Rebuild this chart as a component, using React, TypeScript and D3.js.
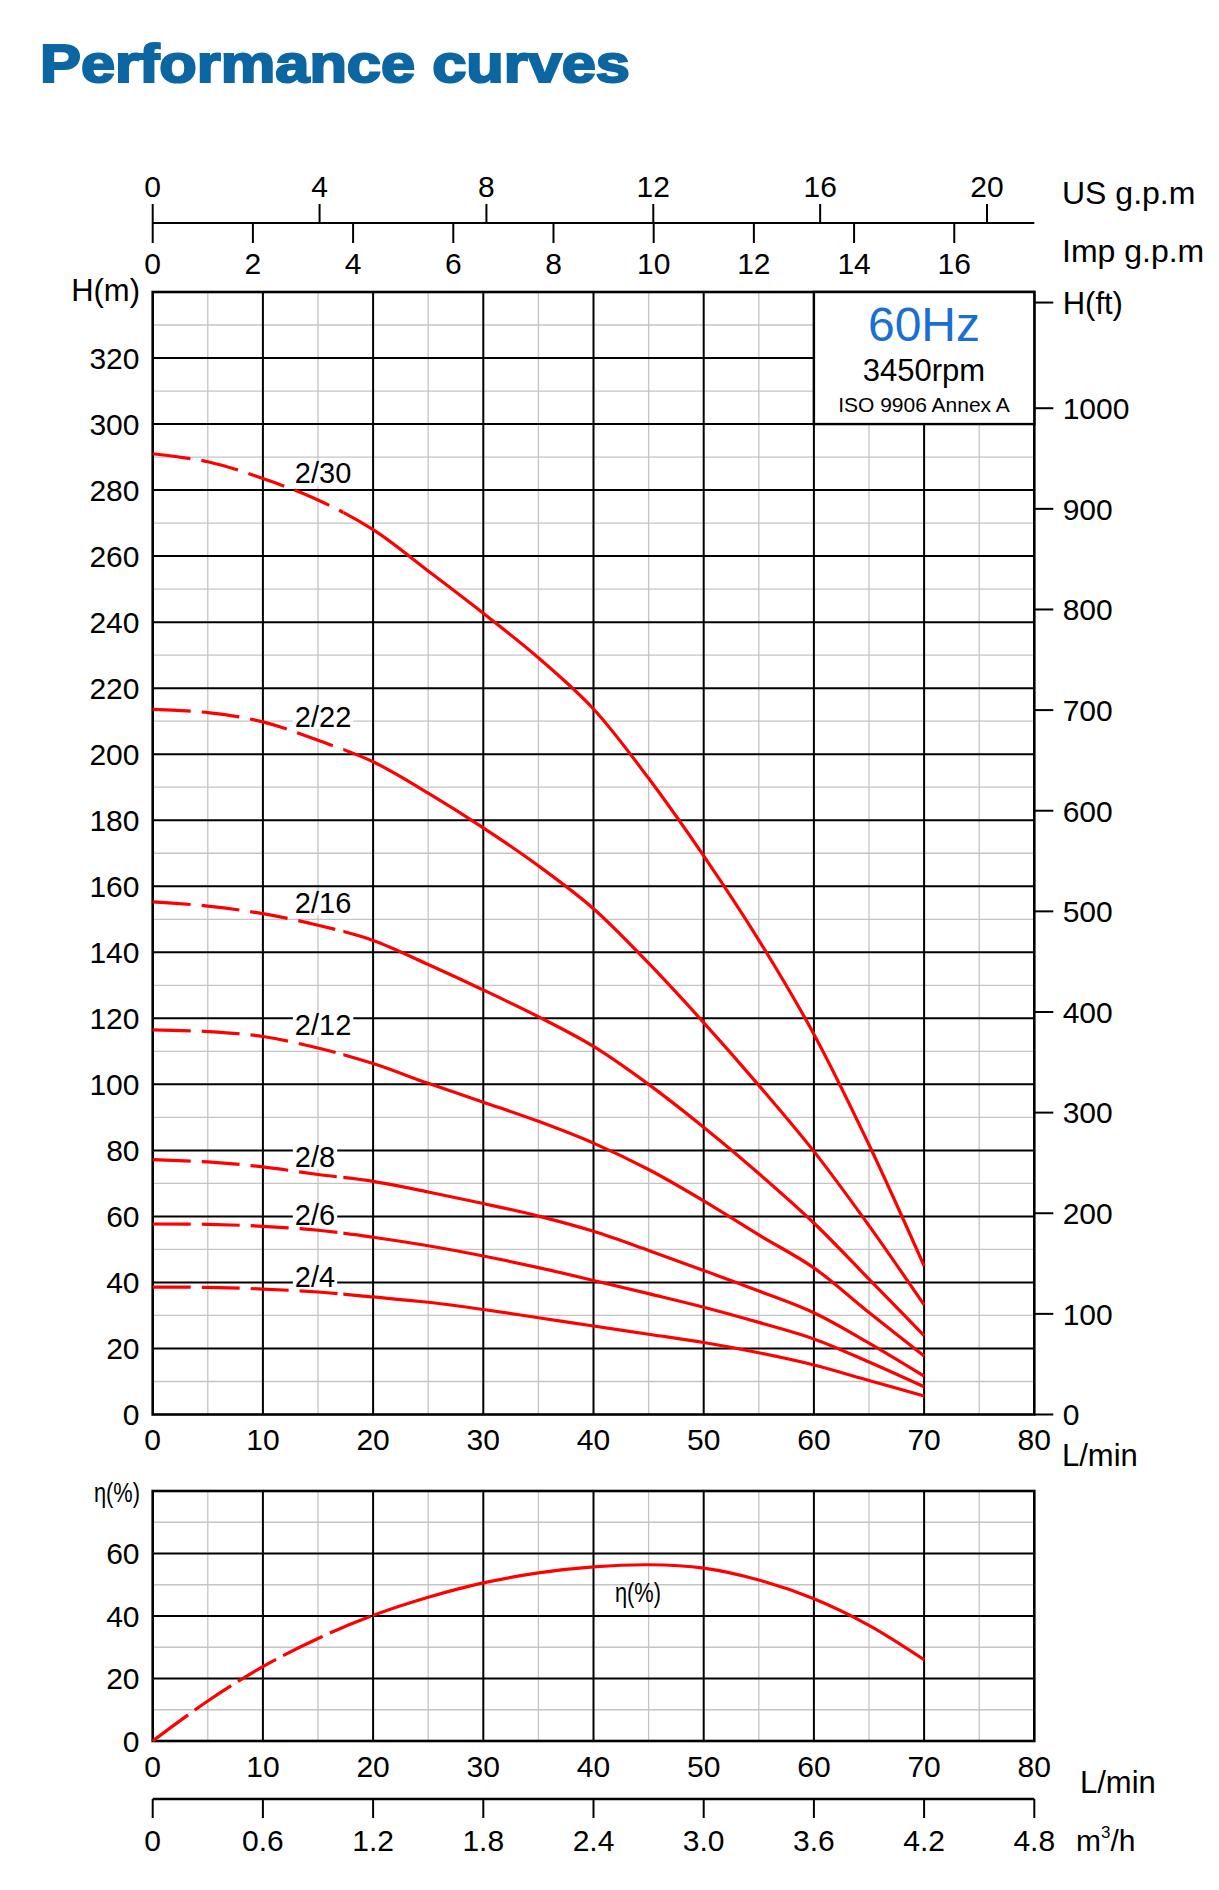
import * as d3 from "d3";

// flow rate, L/min
const flow = [0, 5, 10, 15, 20, 25, 30, 35, 40, 45, 50, 55, 60, 65, 70];

// head, m
const head2_30 = [291, 288.6, 283.5, 277, 268, 255.5, 242.7, 229.2, 213.7, 192.7, 169.2, 143.7, 115.2, 81.7, 45];
const head2_22 = [213.6, 212.6, 209.8, 204.2, 197.7, 188.2, 177.7, 166.2, 153.2, 136.7, 118.7, 99.7, 79.7, 57.2, 33.2];
const head2_16 = [155.3, 154, 151.7, 148.2, 143.6, 136.3, 128.6, 120.5, 111.5, 100, 87, 73, 58, 41, 23.9];
const head2_12 = [116.5, 116, 114.5, 111, 106.3, 100.3, 94.6, 88.8, 82.2, 74.2, 64.7, 54.4, 44.4, 30.9, 17.7];
const head2_8 = [77.2, 76.5, 75, 72.7, 70.6, 67.4, 63.9, 60.1, 55.5, 49.7, 43.6, 37.4, 30.8, 21.6, 11.6];
const head2_6 = [57.7, 57.6, 57, 55.8, 53.7, 51.1, 48, 44.5, 40.6, 36.6, 32.5, 27.9, 22.9, 15.9, 8.4];
const head2_4 = [38.6, 38.5, 38, 37.1, 35.6, 34, 31.8, 29.3, 26.8, 24.3, 21.8, 18.7, 15, 10.3, 5.6];

const models = ["2/30", "2/22", "2/16", "2/12", "2/8", "2/6", "2/4"];
const heads = [head2_30, head2_22, head2_16, head2_12, head2_8, head2_6, head2_4];
const labelHead = [282, 208.3, 151.9, 114.9, 75.1, 57.4, 38.6];
const labelFlow = 12.9;

// efficiency, %
const efficiency = [0, 12.8, 23.8, 32.8, 40.2, 46, 50.6, 53.8, 55.7, 56.4, 55.3, 51.5, 45.5, 37, 26];

const flowTicks = [0, 10, 20, 30, 40, 50, 60, 70, 80];
const headTicksM = [0, 20, 40, 60, 80, 100, 120, 140, 160, 180, 200, 220, 240, 260, 280, 300, 320];
const headTicksFt = [0, 100, 200, 300, 400, 500, 600, 700, 800, 900, 1000];
const effTicks = [0, 20, 40, 60];
const usGpmTicks = [0, 4, 8, 12, 16, 20];
const impGpmTicks = [0, 2, 4, 6, 8, 10, 12, 14, 16];
const m3hTicks = ["0", "0.6", "1.2", "1.8", "2.4", "3.0", "3.6", "4.2", "4.8"];

const FONT = "'Liberation Sans', Arial, Helvetica, sans-serif";
const RED = "#ff0000";
const GRID_MINOR = "#c4c4c4";

export default function App() {
  const x = d3.scaleLinear().domain([0, 80]).range([152.7, 1034.3]);
  const yH = d3.scaleLinear().domain([0, 340]).range([1414.5, 292]);
  const yFt = d3.scaleLinear().domain([0, 340 * 3.28084]).range([1414.5, 292]);
  const yE = d3.scaleLinear().domain([0, 80]).range([1741, 1491]);
  const xUs = d3.scaleLinear().domain([0, 80 / 3.78541]).range(x.range());
  const xImp = d3.scaleLinear().domain([0, 80 / 4.54609]).range(x.range());
  const xM3 = d3.scaleLinear().domain([0, 4.8]).range(x.range());

  const headLine = d3
    .line<number>()
    .x((_, i) => x(flow[i]))
    .y(d => yH(d))
    .curve(d3.curveCatmullRom.alpha(0.5));
  const effLine = d3
    .line<number>()
    .x((_, i) => x(flow[i]))
    .y(d => yE(d))
    .curve(d3.curveCatmullRom.alpha(0.5));

  const dashEnd = 17.3;
  const effDashEnd = 20;

  const minorX = d3.range(5, 80, 10);
  const majorX = d3.range(10, 80, 10);
  const minorH = d3.range(10, 340, 20);
  const majorH = d3.range(20, 340, 20);
  const minorE = d3.range(10, 80, 20);
  const majorE = d3.range(20, 80, 20);

  const txt = { fontFamily: FONT, fill: "#000" } as const;

  return (
    <svg
      width={1219}
      height={1890}
      style={{ position: "absolute", left: 0, top: 0, background: "#fff" }}
    >
      <defs>
        <clipPath id="dashH">
          <rect x={0} y={0} width={x(dashEnd)} height={1890} />
        </clipPath>
        <clipPath id="solidH">
          <rect x={x(dashEnd)} y={0} width={1219} height={1890} />
        </clipPath>
        <clipPath id="dashE">
          <rect x={0} y={0} width={x(effDashEnd)} height={1890} />
        </clipPath>
        <clipPath id="solidE">
          <rect x={x(effDashEnd)} y={0} width={1219} height={1890} />
        </clipPath>
      </defs>
      <rect width={1219} height={1890} fill="#fff" />

      {/* title */}
      <text
        x={40}
        y={81.7}
        fontFamily={FONT}
        fontWeight={900}
        fontSize={54}
        fill="#0b66a2"
        stroke="#0b66a2"
        strokeWidth={2.2}
        textLength={590}
        lengthAdjust="spacingAndGlyphs"
      >
        Performance curves
      </text>

      {/* top flow axes */}
      <line x1={x(0)} x2={x(80)} y1={223} y2={223} stroke="#000" strokeWidth={2.2} />
      {usGpmTicks.map(t => (
        <g key={"us" + t}>
          <line x1={xUs(t)} x2={xUs(t)} y1={223} y2={204} stroke="#000" strokeWidth={2} />
          <text x={xUs(t)} y={196.7} textAnchor="middle" fontSize={30} {...txt}>
            {t}
          </text>
        </g>
      ))}
      {impGpmTicks.map(t => (
        <g key={"imp" + t}>
          <line x1={xImp(t)} x2={xImp(t)} y1={223} y2={243} stroke="#000" strokeWidth={2} />
          <text x={xImp(t)} y={274} textAnchor="middle" fontSize={30} {...txt}>
            {t}
          </text>
        </g>
      ))}
      <text x={1062} y={204} fontSize={32} {...txt}>US g.p.m</text>
      <text x={1062} y={261.7} fontSize={32} {...txt}>Imp g.p.m</text>

      {/* head chart grid */}
      <g>
        {minorX.map(v => (
          <line key={"hmx" + v} x1={x(v)} x2={x(v)} y1={yH(0)} y2={yH(340)} stroke={GRID_MINOR} strokeWidth={1.3} />
        ))}
        {minorH.map(v => (
          <line key={"hmy" + v} x1={x(0)} x2={x(80)} y1={yH(v)} y2={yH(v)} stroke={GRID_MINOR} strokeWidth={1.3} />
        ))}
        {majorX.map(v => (
          <line key={"hMx" + v} x1={x(v)} x2={x(v)} y1={yH(0)} y2={yH(340)} stroke="#000" strokeWidth={2} />
        ))}
        {majorH.map(v => (
          <line key={"hMy" + v} x1={x(0)} x2={x(80)} y1={yH(v)} y2={yH(v)} stroke="#000" strokeWidth={2} />
        ))}
        <rect
          x={x(0)}
          y={yH(340)}
          width={x(80) - x(0)}
          height={yH(0) - yH(340)}
          fill="none"
          stroke="#000"
          strokeWidth={2.6}
        />
      </g>

      {/* info box */}
      <rect
        x={x(60)}
        y={yH(340)}
        width={x(80) - x(60)}
        height={yH(300) - yH(340)}
        fill="#fff"
        stroke="#000"
        strokeWidth={2.4}
      />
      <text x={924} y={341} textAnchor="middle" fontFamily={FONT} fontSize={48} fill="#1870d4">
        60Hz
      </text>
      <text x={924} y={381} textAnchor="middle" fontSize={31} {...txt}>3450rpm</text>
      <text x={924} y={411.7} textAnchor="middle" fontSize={21} {...txt}>ISO 9906 Annex A</text>

      {/* left axis */}
      <text x={140} y={300.7} textAnchor="end" fontSize={31} {...txt}>H(m)</text>
      {headTicksM.map(t => (
        <text key={"lm" + t} x={139.5} y={yH(t)} dy="0.36em" textAnchor="end" fontSize={30} {...txt}>
          {t}
        </text>
      ))}

      {/* right axis (ft) */}
      <line x1={x(80)} x2={1053.3} y1={yFt(1105)} y2={yFt(1105)} stroke="#000" strokeWidth={2} />
      <text x={1062.7} y={yFt(1105)} dy="0.36em" fontSize={31} {...txt}>H(ft)</text>
      {headTicksFt.map(t => (
        <g key={"ft" + t}>
          <line x1={x(80)} x2={1053.3} y1={yFt(t)} y2={yFt(t)} stroke="#000" strokeWidth={2} />
          <text x={1062.7} y={yFt(t)} dy="0.36em" fontSize={30} {...txt}>
            {t}
          </text>
        </g>
      ))}

      {/* bottom axis of head chart */}
      {flowTicks.map(t => (
        <text key={"bx" + t} x={x(t)} y={1450} textAnchor="middle" fontSize={30} {...txt}>
          {t}
        </text>
      ))}
      <text x={1062} y={1466} fontSize={31} {...txt}>L/min</text>

      {/* curve label backgrounds */}
      {models.map((m, i) => {
        const w = ((m.length - 1) * 0.556 + 0.278) * 29 + 4;
        return (
          <rect key={"lb" + m} x={x(labelFlow) - 2} y={yH(labelHead[i]) - 22} width={w} height={24} fill="#fff" />
        );
      })}

      {/* head curves */}
      {heads.map((h, i) => (
        <g key={"c" + models[i]} fill="none" stroke={RED} strokeWidth={3.2}>
          <path d={headLine(h) ?? ""} clipPath="url(#dashH)" strokeDasharray="38 11" />
          <path d={headLine(h) ?? ""} clipPath="url(#solidH)" />
        </g>
      ))}

      {models.map((m, i) => (
        <text key={"lt" + m} x={x(labelFlow)} y={yH(labelHead[i])} fontSize={29} {...txt}>
          {m}
        </text>
      ))}

      {/* efficiency chart grid */}
      <g>
        {minorX.map(v => (
          <line key={"emx" + v} x1={x(v)} x2={x(v)} y1={yE(0)} y2={yE(80)} stroke={GRID_MINOR} strokeWidth={1.3} />
        ))}
        {minorE.map(v => (
          <line key={"emy" + v} x1={x(0)} x2={x(80)} y1={yE(v)} y2={yE(v)} stroke={GRID_MINOR} strokeWidth={1.3} />
        ))}
        {majorX.map(v => (
          <line key={"eMx" + v} x1={x(v)} x2={x(v)} y1={yE(0)} y2={yE(80)} stroke="#000" strokeWidth={2} />
        ))}
        {majorE.map(v => (
          <line key={"eMy" + v} x1={x(0)} x2={x(80)} y1={yE(v)} y2={yE(v)} stroke="#000" strokeWidth={2} />
        ))}
        <rect
          x={x(0)}
          y={yE(80)}
          width={x(80) - x(0)}
          height={yE(0) - yE(80)}
          fill="none"
          stroke="#000"
          strokeWidth={2.6}
        />
      </g>

      <text
        x={140}
        y={1502}
        textAnchor="end"
        fontSize={28}
        textLength={46}
        lengthAdjust="spacingAndGlyphs"
        {...txt}
      >
        η(%)
      </text>
      {effTicks.map(t => (
        <text key={"ey" + t} x={139.5} y={yE(t)} dy="0.36em" textAnchor="end" fontSize={30} {...txt}>
          {t}
        </text>
      ))}

      <g fill="none" stroke={RED} strokeWidth={3.2}>
        <path d={effLine(efficiency) ?? ""} clipPath="url(#dashE)" strokeDasharray="44 8" />
        <path d={effLine(efficiency) ?? ""} clipPath="url(#solidE)" />
      </g>
      <text
        x={615}
        y={1602}
        fontSize={28}
        textLength={46}
        lengthAdjust="spacingAndGlyphs"
        {...txt}
      >
        η(%)
      </text>

      {flowTicks.map(t => (
        <text key={"ex" + t} x={x(t)} y={1777} textAnchor="middle" fontSize={30} {...txt}>
          {t}
        </text>
      ))}
      <text x={1080} y={1793} fontSize={31} {...txt}>L/min</text>

      {/* m3/h axis */}
      <line x1={x(0)} x2={x(80)} y1={1799} y2={1799} stroke="#000" strokeWidth={2.4} />
      {m3hTicks.map(t => (
        <g key={"m3" + t}>
          <line x1={xM3(+t)} x2={xM3(+t)} y1={1799} y2={1818} stroke="#000" strokeWidth={2} />
          <text x={xM3(+t)} y={1851} textAnchor="middle" fontSize={30} {...txt}>
            {t}
          </text>
        </g>
      ))}
      <text x={1076} y={1851} fontSize={30} {...txt}>
        m<tspan fontSize={17} dy={-13}>3</tspan>
        <tspan dy={13}>/h</tspan>
      </text>
    </svg>
  );
}
